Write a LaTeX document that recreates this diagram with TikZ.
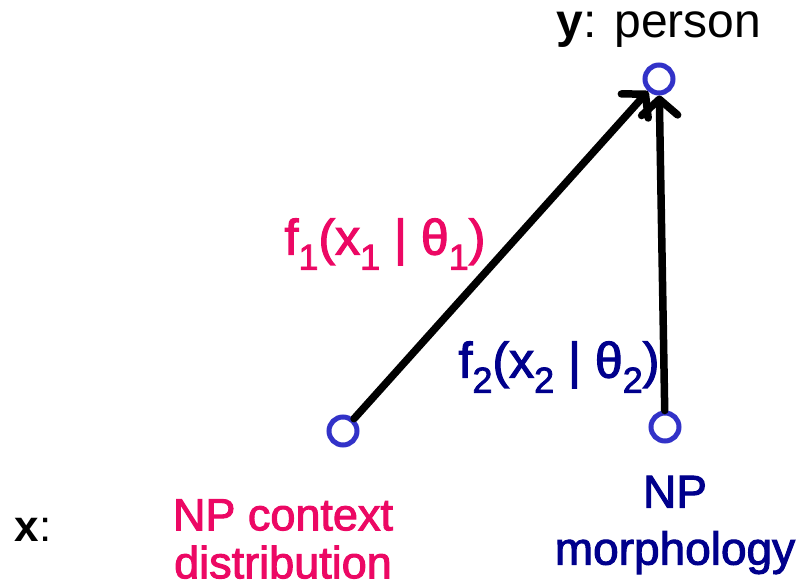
\documentclass[tikz,border=0pt]{standalone}
\usepackage{fontspec}
\setmainfont{Liberation Sans}
\newfontfamily\heavy[FakeBold=2.2]{Liberation Sans}
\usetikzlibrary{arrows.meta}
\definecolor{pinkred}{RGB}{236,8,100}
\definecolor{navyb}{RGB}{0,0,140}
\definecolor{circblue}{RGB}{50,50,200}
\newcommand\sbs[1]{\raisebox{-0.3em}{\fontsize{36}{36}\selectfont #1}}
\tikzset{
  var/.style={circle,draw=circblue,line width=5pt,fill=white,minimum size=28pt,inner sep=0pt},
  edge/.style={line width=7.5pt,draw=black,line cap=round,
    -{Straight Barb[length=16pt,width=36pt,line width=7.5pt,round]}},
  lbl/.style={inner sep=0pt,align=center}
}
\begin{document}
\begin{tikzpicture}[x=1pt,y=-1pt]
\useasboundingbox (0,0) rectangle (796,588);
\node[var] (y) at (659,79) {};
\node[var] (x1) at (343,431) {};
\node[var] (x2) at (665,427) {};
\draw[edge] (x1) -- (y);
\draw[edge] (x2) -- (y);
\node[lbl,font=\fontsize{48}{54}\selectfont] (ylab) at (659,30) {\textbf{y}: person};
\node[lbl,font=\heavy\fontsize{50}{56}\selectfont,text=pinkred] (f1) at (385,244) {f\sbs{1}(x\sbs{1} | θ\sbs{1})};
\node[lbl,font=\heavy\fontsize{50}{56}\selectfont,text=navyb] (f2) at (559,367) {f\sbs{2}(x\sbs{2} | θ\sbs{2})};
\node[lbl,font=\fontsize{44}{50}\selectfont] (xlab) at (33,530) {\textbf{x}:};
\node[lbl,text=pinkred,font=\heavy\fontsize{45}{48}\selectfont] (l1) at (283,539) {NP context\\distribution};
\node[lbl,text=navyb,font=\heavy\fontsize{46}{57}\selectfont] (l2) at (675,525) {NP\\morphology};
\end{tikzpicture}
\end{document}
